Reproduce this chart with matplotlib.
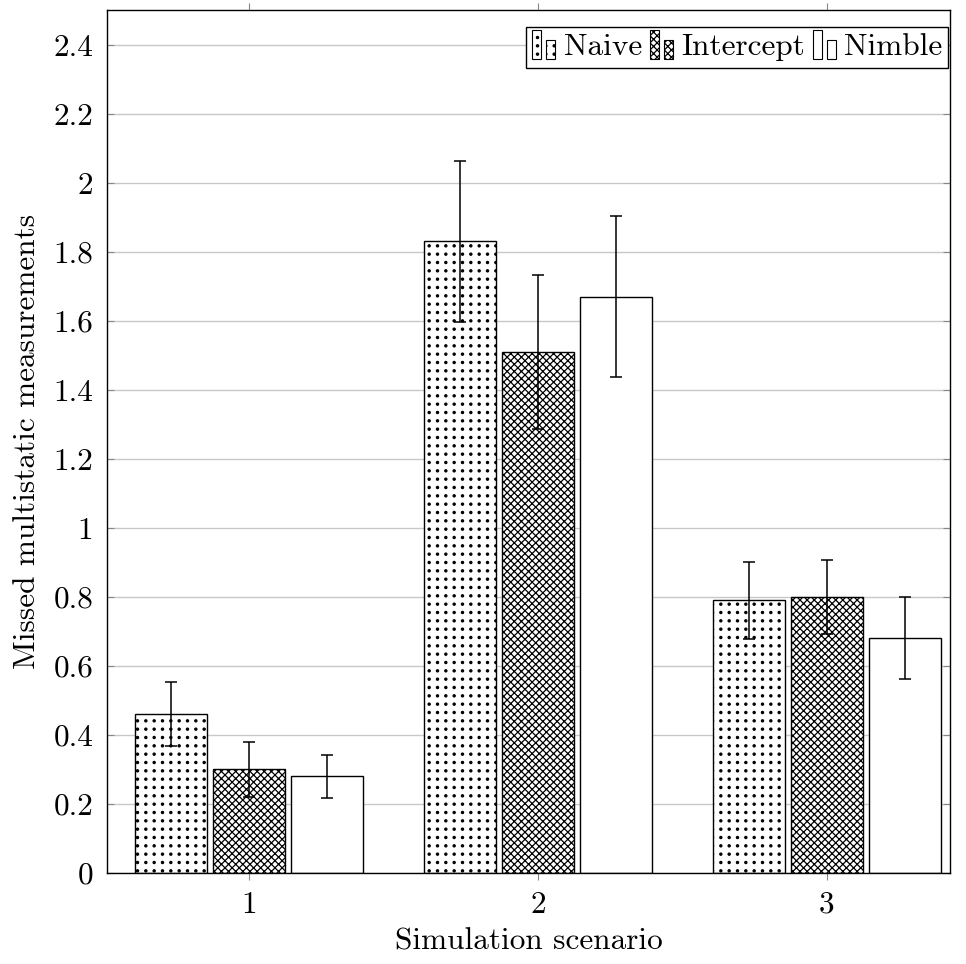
import matplotlib
matplotlib.use("Agg")
import matplotlib.pyplot as plt
import matplotlib.hatch as mhatch
from matplotlib.path import Path
import numpy as np
from matplotlib.patches import Rectangle
from matplotlib.legend_handler import HandlerBase

scenarios = [1, 2, 3]
series_names = ["Naive", "Intercept", "Nimble"]
naive = [0.46, 1.83, 0.79]
intercept = [0.30, 1.51, 0.80]
nimble = [0.28, 1.67, 0.68]
naive_err = [0.092, 0.233, 0.112]
intercept_err = [0.079, 0.223, 0.108]
nimble_err = [0.063, 0.234, 0.119]
yticks = [0, 0.2, 0.4, 0.6, 0.8, 1, 1.2, 1.4, 1.6, 1.8, 2, 2.2, 2.4]


# square-grid dot hatch (like pgfplots "dots")
class GridDots(mhatch.HatchPatternBase):
    size = 0.26

    def __init__(self, hatch, density):
        self.n = int(hatch.count('.') * density)
        shape = Path.unit_circle()
        self.shape_vertices = shape.vertices * (self.size / 2.0)
        self.shape_codes = shape.codes
        self.num_vertices = self.n * self.n * len(self.shape_vertices)

    def set_vertices_and_codes(self, vertices, codes):
        off = 1.0 / self.n
        sv = self.shape_vertices * off
        nv = len(sv)
        k = 0
        for i in range(self.n):
            for j in range(self.n):
                vertices[k:k + nv] = sv + ((i + 0.5) * off, (j + 0.5) * off)
                codes[k:k + nv] = self.shape_codes
                k += nv


class NE(mhatch.NorthEastHatch):
    def __init__(self, hatch, density):
        super().__init__(hatch, 14 if 'x' in hatch else density)


class SE(mhatch.SouthEastHatch):
    def __init__(self, hatch, density):
        super().__init__(hatch, 14 if 'x' in hatch else density)


_repl = {mhatch.SmallFilledCircles: GridDots,
         mhatch.NorthEastHatch: NE, mhatch.SouthEastHatch: SE}
mhatch._hatch_types = [_repl.get(c, c) for c in mhatch._hatch_types]

FS = 22.5
plt.rcParams['font.family'] = ['cmr10', 'DejaVu Serif']
plt.rcParams['mathtext.fontset'] = 'cm'
plt.rcParams['axes.formatter.use_mathtext'] = True
plt.rcParams['hatch.linewidth'] = 0.9

fig = plt.figure(figsize=(9.66, 9.64), dpi=100)
ax = fig.add_axes([0.1108, 0.0944, 0.8726, 0.8952])

hatches = ['..', 'xx', '']
values = [naive, intercept, nimble]
errs = [naive_err, intercept_err, nimble_err]
offsets = [-0.27, 0.0, 0.27]
width = 0.251
x = np.array(scenarios, dtype=float)
for vals, er, h, off in zip(values, errs, hatches, offsets):
    ax.bar(x + off, vals, width=width, facecolor='white', edgecolor='black',
           hatch=h, linewidth=1.0, zorder=2)
    ax.errorbar(x + off, vals, yerr=er, fmt='none', ecolor='black',
                elinewidth=1.1, capsize=4, capthick=1.1, zorder=3)

ax.set_xlim(0.509, 3.426)
ax.set_ylim(0, 2.5)
ax.set_xticks(scenarios)
ax.set_xticklabels([str(s) for s in scenarios])
ax.set_yticks(yticks)
ax.set_yticklabels([f"{t:g}" for t in yticks])
ax.yaxis.grid(True, color='#c8c8c8', linewidth=1.0, zorder=0)
ax.set_axisbelow(True)
ax.tick_params(axis='x', direction='out', top=True, length=5, width=0.8,
               color='#888888', labelsize=FS, pad=8)
ax.tick_params(axis='y', direction='in', right=True, length=5, width=0.8,
               color='#888888', labelsize=FS, pad=10)
for s in ax.spines.values():
    s.set_linewidth(1.0)
ax.set_xlabel("Simulation scenario", fontsize=FS, labelpad=6)
ax.set_ylabel("Missed multistatic measurements", fontsize=FS, labelpad=9)


class TwoBarHandler(HandlerBase):
    def __init__(self, hatch):
        super().__init__()
        self.hatch = hatch

    def create_artists(self, legend, orig_handle, xdescent, ydescent,
                       width, height, fontsize, trans):
        w = width * 0.36
        r1 = Rectangle((-xdescent, -ydescent - height * 0.15), w, height * 1.3,
                       facecolor='white', edgecolor='black', hatch=self.hatch,
                       linewidth=0.8, transform=trans)
        r2 = Rectangle((-xdescent + width * 0.56, -ydescent - height * 0.15),
                       w, height * 0.85,
                       facecolor='white', edgecolor='black', hatch=self.hatch,
                       linewidth=0.8, transform=trans)
        return [r1, r2]


handles = [Rectangle((0, 0), 1, 1) for _ in series_names]
hmap = {hd: TwoBarHandler(h) for hd, h in zip(handles, hatches)}
leg = ax.legend(handles, series_names, handler_map=hmap, ncol=3,
                loc='upper right', bbox_to_anchor=(0.998, 0.98),
                borderaxespad=0, fontsize=FS, handlelength=0.8,
                handletextpad=0.2, columnspacing=0.25, fancybox=False,
                framealpha=1, edgecolor='black', borderpad=0.2)
leg.get_frame().set_linewidth(1.0)

fig.savefig("out.png", dpi=100)
